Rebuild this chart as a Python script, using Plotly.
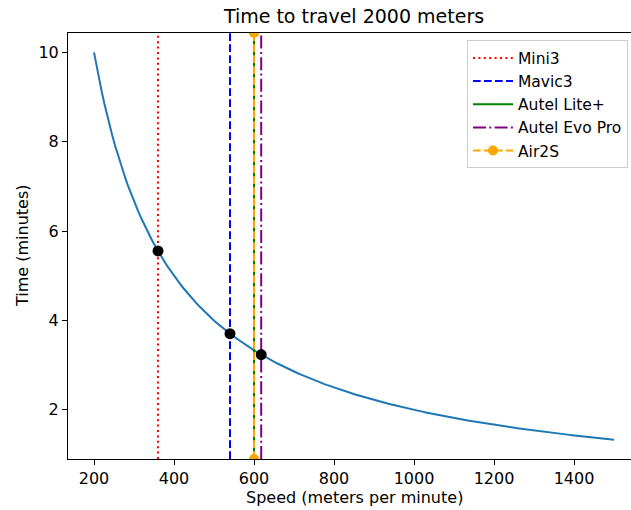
import numpy as np
import plotly.graph_objects as go

# ---- data ----
DISTANCE = 2000  # meters
SPEED_MIN = 200
SPEED_MAX = 1500
DRONES = ["Mini3", "Mavic3", "Autel Lite+", "Autel Evo Pro", "Air2S"]
DRONE_SPEEDS = [360, 540, 600, 618, 600]
DOT_SPEEDS = [360, 540, 618]
X_TICKS = [200, 400, 600, 800, 1000, 1200, 1400]
Y_TICKS = [2, 4, 6, 8, 10]

# ---- styles ----
COLORS = ["red", "blue", "green", "purple", "orange"]
DASHES = ["2px,3.4px", "7.7px,3.3px", "solid", "13px,3.3px,2px,3.3px", "7.7px,3.3px"]
MARKERS = [False, False, False, False, True]
FONT = "DejaVu Sans"

speeds = np.linspace(SPEED_MIN, SPEED_MAX, 200)
times = DISTANCE / speeds

tmin, tmax = times.min(), times.max()
pad = 0.05 * (tmax - tmin)
y_range = [tmin - pad, tmax + pad]
x_lo = SPEED_MIN - 0.05 * (SPEED_MAX - SPEED_MIN)

W, H = 631, 510
L, T, B = 68, 32.6, 51
PW, PH = W - L, H - B - T
px_per_unit = 0.4
x_range = [x_lo, x_lo + PW / px_per_unit]

fig = go.Figure()
fig.add_trace(go.Scatter(x=speeds, y=times, mode="lines",
                         line=dict(color="#1f77b4", width=2), showlegend=False))

for name, s, c, d, m in zip(DRONES, DRONE_SPEEDS, COLORS, DASHES, MARKERS):
    fig.add_trace(go.Scatter(
        x=[s, s], y=y_range, name=name,
        mode="lines+markers" if m else "lines",
        line=dict(color=c, width=2, dash=d),
        marker=dict(color=c, size=10) if m else None,
        cliponaxis=True))

fig.add_trace(go.Scatter(x=DOT_SPEEDS, y=[DISTANCE / s for s in DOT_SPEEDS],
                         mode="markers", marker=dict(color="black", size=11),
                         showlegend=False))

fig.update_layout(
    width=W, height=H,
    margin=dict(l=L, r=0, t=T, b=B, pad=0, autoexpand=False),
    plot_bgcolor="white", paper_bgcolor="white",
    font=dict(family=FONT, size=16, color="black"),
    title=dict(text="Time to travel 2000 meters", font=dict(size=19, color="black"),
               xref="paper", yref="container", x=(354 - L) / PW, y=1 - 16 / H,
               xanchor="center", yanchor="middle"),
    legend=dict(xref="paper", yref="paper", x=(467 - L) / PW, y=1 - (40 - T) / PH,
                xanchor="left", yanchor="top",
                bgcolor="rgba(255,255,255,0.8)", bordercolor="#cccccc", borderwidth=1,
                font=dict(size=15.5), tracegroupgap=0, itemwidth=40),
    xaxis=dict(range=x_range, tickvals=X_TICKS, showgrid=False, zeroline=False,
               showline=True, linecolor="black", linewidth=1, mirror=True,
               ticks="outside", ticklen=5, tickcolor="black",
               tickfont=dict(size=16)),
    yaxis=dict(range=y_range, tickvals=Y_TICKS, showgrid=False, zeroline=False,
               showline=True, linecolor="black", linewidth=1,
               ticks="outside", ticklen=5, tickcolor="black",
               tickfont=dict(size=16)),
    annotations=[
        dict(text="Speed (meters per minute)", xref="paper", yref="paper",
             x=(354 - L) / PW, y=-(498 - (H - B)) / PH,
             showarrow=False, xanchor="center", yanchor="middle", font=dict(size=16)),
        dict(text="Time (minutes)", xref="paper", yref="paper",
             x=-(L - 22) / PW, y=0.5, textangle=-90,
             showarrow=False, xanchor="center", yanchor="middle", font=dict(size=16)),
    ],
)

fig.write_html("out.html")
